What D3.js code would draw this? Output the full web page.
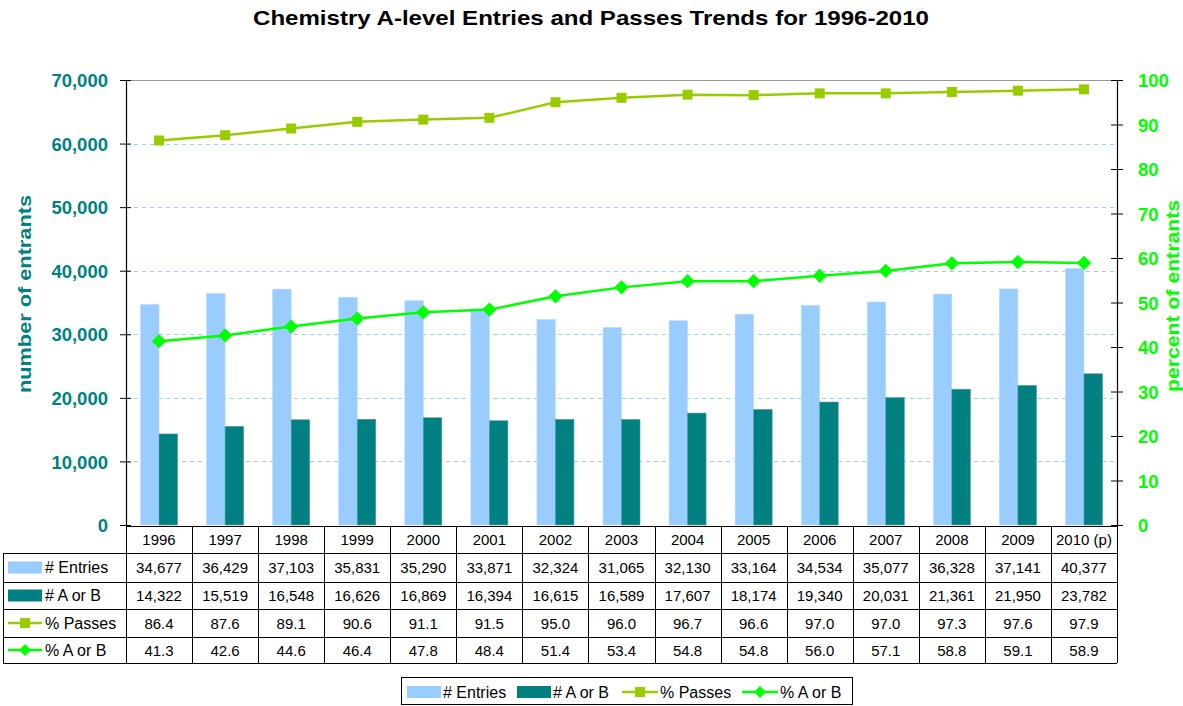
<!DOCTYPE html>
<html><head><meta charset="utf-8">
<script src="https://cdn.jsdelivr.net/npm/d3@7"></script>
<style>body{margin:0;background:#fff;}svg{display:block;font-family:Arial,"Liberation Sans",sans-serif;}</style>
</head><body><svg id="c" width="1183" height="706"></svg>
<script>
const years = ["1996","1997","1998","1999","2000","2001","2002","2003","2004","2005","2006","2007","2008","2009","2010 (p)"];
const entries = [34677,36429,37103,35831,35290,33871,32324,31065,32130,33164,34534,35077,36328,37141,40377];
const aOrB = [14322,15519,16548,16626,16869,16394,16615,16589,17607,18174,19340,20031,21361,21950,23782];
const pctPasses = [86.4,87.6,89.1,90.6,91.1,91.5,95.0,96.0,96.7,96.6,97.0,97.0,97.3,97.6,97.9];
const pctAorB = [41.3,42.6,44.6,46.4,47.8,48.4,51.4,53.4,54.8,54.8,56.0,57.1,58.8,59.1,58.9];
const leftTicks = [0,10000,20000,30000,40000,50000,60000,70000];
const rightTicks = [0,10,20,30,40,50,60,70,80,90,100];

const C_ENT="#99ccff", C_AB="#008080", C_PP="#99cc00", C_PAB="#00ff00";
const svg = d3.select("#c");
const L=126, R=1117, T=80, B=525;
const x = d3.scaleBand().domain(years).range([L,R]);
const yL = d3.scaleLinear().domain([0,70000]).range([B,T]);
const yR = d3.scaleLinear().domain([0,100]).range([B,T]);
const fmt = d3.format(",");
const FF = "Arial,'Liberation Sans',sans-serif";

// title
svg.append("text").attr("x",591).attr("y",25).attr("text-anchor","middle")
  .attr("font-size",21).attr("font-weight","bold").attr("textLength",676).attr("lengthAdjust","spacingAndGlyphs")
  .text("Chemistry A-level Entries and Passes Trends for 1996-2010");

// gridlines
svg.append("g").selectAll("line").data(leftTicks.filter(d=>d>0&&d<70000)).join("line")
  .attr("x1",L).attr("x2",R).attr("y1",d=>Math.round(yL(d))+0.5).attr("y2",d=>Math.round(yL(d))+0.5)
  .attr("stroke","#99ccff").attr("stroke-dasharray","4,4").attr("stroke-width",1);
svg.append("line").attr("x1",L).attr("x2",R).attr("y1",T+0.5).attr("y2",T+0.5).attr("stroke","#999");

// bars
const bw = 18.5;
svg.append("g").selectAll("rect").data(entries).join("rect")
  .attr("x",(d,i)=>x(years[i])+x.bandwidth()/2-bw).attr("width",bw)
  .attr("y",d=>yL(d)).attr("height",d=>B-yL(d)).attr("fill",C_ENT).attr("stroke","#b8dcff").attr("stroke-width",0.6);
svg.append("g").selectAll("rect").data(aOrB).join("rect")
  .attr("x",(d,i)=>x(years[i])+x.bandwidth()/2).attr("width",bw)
  .attr("y",d=>yL(d)).attr("height",d=>B-yL(d)).attr("fill",C_AB).attr("stroke","#4a9a9a").attr("stroke-width",0.6);

// lines
const cx = (i)=>x(years[i])+x.bandwidth()/2;
const line = d3.line().x((d,i)=>cx(i)).y(d=>yR(d));
svg.append("path").datum(pctPasses).attr("d",line).attr("fill","none").attr("stroke",C_PP).attr("stroke-width",2.5);
svg.append("g").selectAll("rect").data(pctPasses).join("rect")
  .attr("x",(d,i)=>cx(i)-5).attr("y",d=>yR(d)-5).attr("width",10).attr("height",10).attr("fill",C_PP);
svg.append("path").datum(pctAorB).attr("d",line).attr("fill","none").attr("stroke",C_PAB).attr("stroke-width",2.5);
svg.append("g").selectAll("path.dm").data(pctAorB).join("path")
  .attr("d",d3.symbol(d3.symbolDiamond2,130)).attr("transform",(d,i)=>`translate(${cx(i)},${yR(d)})`).attr("fill",C_PAB);

// axes
const gl = svg.append("g").attr("transform",`translate(${L},0)`)
  .call(d3.axisLeft(yL).tickValues(leftTicks).tickFormat(fmt).tickSize(6).tickPadding(12));
gl.select(".domain").attr("stroke","#000").attr("stroke-width",1.2);
gl.selectAll(".tick line").attr("x2",5).attr("x1",-6).attr("stroke","#000");
gl.selectAll("text").attr("fill",C_AB).attr("font-size",18.5).attr("font-weight","bold").attr("font-family",FF).attr("dy","0.36em");
const gr = svg.append("g").attr("transform",`translate(${R},0)`)
  .call(d3.axisRight(yR).tickValues(rightTicks).tickSize(6).tickPadding(15));
gr.select(".domain").attr("stroke","#000").attr("stroke-width",1.2);
gr.selectAll(".tick line").attr("x1",-6).attr("x2",6).attr("stroke","#000");
gr.selectAll("text").attr("fill",C_PAB).attr("font-size",18.5).attr("font-weight","bold").attr("font-family",FF).attr("dy","0.36em");

// axis titles
svg.append("text").attr("transform",`translate(31,294) rotate(-90)`).attr("text-anchor","middle")
  .attr("fill",C_AB).attr("font-size",19).attr("font-weight","bold").attr("textLength",198).attr("lengthAdjust","spacingAndGlyphs").text("number of entrants");
svg.append("text").attr("transform",`translate(1179,296) rotate(-90)`).attr("text-anchor","middle")
  .attr("fill",C_PAB).attr("font-size",19).attr("font-weight","bold").attr("textLength",192).attr("lengthAdjust","spacingAndGlyphs").text("percent of entrants");

// data table
const rowY = [526,553,582,609,637,663];
const tg = svg.append("g").attr("fill","#000");
const TL = 3;
years.forEach((yv,i)=>{
  tg.append("text").attr("x",cx(i)).attr("y",(rowY[0]+rowY[1])/2+5.5).attr("font-size",15).attr("text-anchor","middle").text(yv);
});
const rows = [
  {name:"# Entries", vals:entries.map(fmt), type:"bar", color:C_ENT},
  {name:"# A or B", vals:aOrB.map(fmt), type:"bar", color:C_AB},
  {name:"% Passes", vals:pctPasses.map(d=>d.toFixed(1)), type:"sq", color:C_PP},
  {name:"% A or B", vals:pctAorB.map(d=>d.toFixed(1)), type:"dm", color:C_PAB}
];
rows.forEach((r,ri)=>{
  const y0=rowY[ri+1], y1=rowY[ri+2], ym=(y0+y1)/2;
  r.vals.forEach((v,i)=>tg.append("text").attr("x",cx(i)).attr("y",ym+5.5).attr("font-size",15).attr("text-anchor","middle").text(v));
  tg.append("text").attr("x",45).attr("y",ym+5.5).attr("font-size",16).text(r.name);
  if(r.type==="bar") tg.append("rect").attr("x",8).attr("y",ym-6).attr("width",34).attr("height",12).attr("fill",r.color);
  else {
    tg.append("line").attr("x1",8).attr("x2",42).attr("y1",ym).attr("y2",ym).attr("stroke",r.color).attr("stroke-width",2.5);
    if(r.type==="sq") tg.append("rect").attr("x",20).attr("y",ym-5).attr("width",10).attr("height",10).attr("fill",r.color);
    else tg.append("path").attr("d",d3.symbol(d3.symbolDiamond2,90)).attr("transform",`translate(25,${ym})`).attr("fill",r.color);
  }
});
const lc="#000";
rowY.forEach((yy,i)=>{
  svg.append("line").attr("x1",i===0?L:TL).attr("x2",R).attr("y1",yy+0.5).attr("y2",yy+0.5).attr("stroke",lc);
});
svg.append("line").attr("x1",TL+0.5).attr("x2",TL+0.5).attr("y1",rowY[1]).attr("y2",rowY[5]).attr("stroke",lc);
x.domain().forEach(yv=>{
  svg.append("line").attr("x1",Math.round(x(yv))+0.5).attr("x2",Math.round(x(yv))+0.5).attr("y1",rowY[0]).attr("y2",rowY[5]).attr("stroke",lc);
});
svg.append("line").attr("x1",R+0.5).attr("x2",R+0.5).attr("y1",rowY[0]).attr("y2",rowY[5]).attr("stroke",lc);

// legend
const lg = svg.append("g");
lg.append("rect").attr("x",401.5).attr("y",677.5).attr("width",451).attr("height",27).attr("fill","none").attr("stroke","#000");
const items=[
  {name:"# Entries", type:"bar", color:C_ENT, x:407},
  {name:"# A or B", type:"bar", color:C_AB, x:517},
  {name:"% Passes", type:"sq", color:C_PP, x:622},
  {name:"% A or B", type:"dm", color:C_PAB, x:742}
];
const ly=692;
items.forEach(it=>{
  if(it.type==="bar") lg.append("rect").attr("x",it.x).attr("y",ly-6).attr("width",34).attr("height",12).attr("fill",it.color);
  else {
    lg.append("line").attr("x1",it.x).attr("x2",it.x+36).attr("y1",ly).attr("y2",ly).attr("stroke",it.color).attr("stroke-width",2.5);
    if(it.type==="sq") lg.append("rect").attr("x",it.x+13).attr("y",ly-5).attr("width",10).attr("height",10).attr("fill",it.color);
    else lg.append("path").attr("d",d3.symbol(d3.symbolDiamond2,90)).attr("transform",`translate(${it.x+18},${ly})`).attr("fill",it.color);
  }
  lg.append("text").attr("x",it.x+(it.type==="bar"?36:38)).attr("y",ly+5.5).attr("font-size",16).text(it.name);
});
</script></body></html>
